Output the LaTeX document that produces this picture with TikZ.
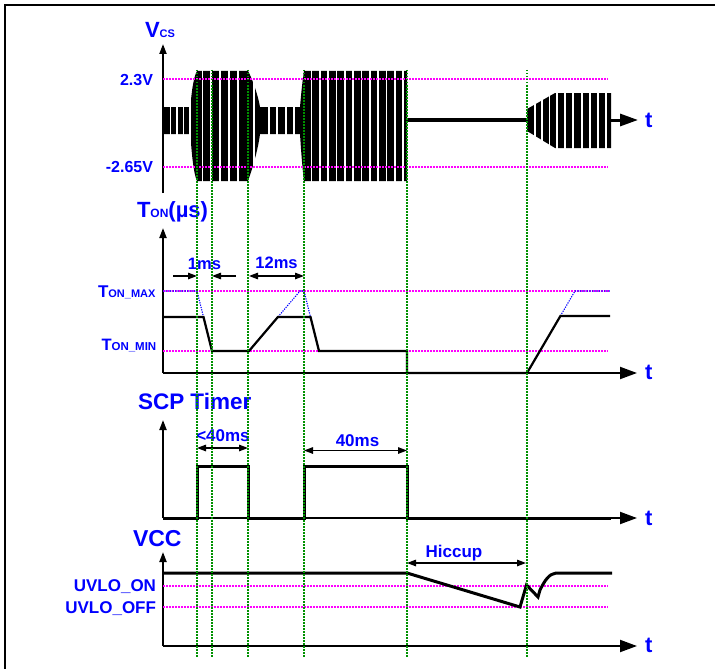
\documentclass[tikz,border=0pt]{standalone}
\usepackage{fontspec}
\newfontfamily\lab{Liberation Sans}
\usetikzlibrary{arrows.meta}
\definecolor{blu}{RGB}{0,0,255}
\definecolor{mag}{RGB}{255,0,255}
\definecolor{grn}{RGB}{0,145,0}
\begin{document}
\begin{tikzpicture}[x=1pt,y=-1pt,
  txt/.style={text=blu, inner sep=0pt, outer sep=0pt, font=\lab\bfseries\fontsize{#1}{#1}\selectfont},
  gl/.style={grn, line width=1.4pt, dash pattern=on 1.5pt off 1.5pt},
  ml/.style={mag, line width=1.4pt, dash pattern=on 1.5pt off 1.5pt},
  bl/.style={blu, line width=1.1pt, dash pattern=on 1.2pt off 1.2pt},
  yax/.style={line width=2pt, -{Triangle[length=10pt,width=7pt]}},
  tax/.style={line width=2pt, -{Triangle[length=17pt,width=12pt]}},
  dimone/.style={line width=1.3pt, -{Triangle[length=9pt,width=6.5pt]}},
  dimtwo/.style={line width=1.3pt, {Triangle[length=9pt,width=6.5pt]}-{Triangle[length=9pt,width=6.5pt]}},
  sig/.style={line width=3pt, line join=miter},
  gap/.style={white, line width=1.7pt}]
\useasboundingbox (0,0) rectangle (715,669);
% frame
\draw[line width=2pt] (4.5,669) -- (4.5,5.5) -- (715,5.5);

% ---------------- Vcs panel ----------------
\fill[black] (164,107) -- (190.5,107) .. controls (191.5,90) and (194,76) .. (197,71)
  -- (248,71) .. controls (252,78) and (258,95) .. (260,107) -- (300,107)
  .. controls (301,95) and (302.5,80) .. (304,71) -- (407,71) -- (407,181) -- (304,181)
  .. controls (302.5,170) and (301,150) .. (300,134) -- (260,134)
  .. controls (258,150) and (252,170) .. (248,181) -- (197,181)
  .. controls (194,175) and (191.5,155) .. (190.5,134) -- (164,134) -- cycle;
\fill[black] (527,109) -- (555,93) -- (611,93) -- (611,148) -- (555,148) -- (527,131) -- cycle;
\foreach \g in {170.5,177,183.5,190,202.5,211.3,220.1,228.9,237.7,254,269,277.3,285.7,294,
  311.5,319.8,328.2,336.5,344.8,353.2,361.5,369.8,378.2,386.5,394.8,403.2,
  535,542.3,549.5,556.7,565,573.3,581.7,590,598.3,606}
  \draw[gap] (\g,65) -- (\g,186);
\draw[line width=3.5pt] (406,120) -- (528,120);
\draw[line width=3pt, -{Triangle[length=18pt,width=12pt]}] (611,120) -- (638,120);
\draw[yax] (163,193) -- (163,44);
\draw[ml] (163,79) -- (608,79);
\draw[ml] (163,167) -- (608,167);
\node[txt=22, anchor=base west] (vcs) at (145,38) {V\fontsize{11}{11}\selectfont CS};
\node[txt=16, anchor=base east] (v23) at (153,85) {2.3V};
\node[txt=16, anchor=base east] (v265) at (153,172) {-2.65V};
\node[txt=22, anchor=base west] (t1) at (645,127) {t};

% ---------------- Ton panel ----------------
\draw[yax] (163,373) -- (163,228);
\draw[tax] (163,373) -- (637,373);
\draw[ml] (163,291) -- (610,291);
\draw[ml] (163,351) -- (608,351);
\draw[bl] (163,291) -- (197,291) -- (212,351) -- (249,351) -- (300,291) -- (304,291) -- (319,351)
  -- (407,351) -- (407,373) -- (527,373) -- (575,291) -- (610,291);
\draw[line width=2.2pt, line join=miter] (163,317) -- (203.5,317) -- (212,351) -- (249,351) -- (277.9,317)
  -- (310.5,317) -- (319,351) -- (407,351) -- (407,373) -- (527,373) -- (560.4,316) -- (610,316);
\node[txt=22, anchor=base west] (ton) at (137,217) {T\fontsize{12}{12}\selectfont ON\fontsize{22}{22}\selectfont(µs)};
\node[txt=17, anchor=base west] (tmax) at (98,297) {T\fontsize{11}{11}\selectfont ON\_MAX};
\node[txt=16.5, anchor=base west] (tmin) at (101.5,350) {T\fontsize{11.5}{11.5}\selectfont ON\_MIN};
\node[txt=22, anchor=base west] (t2) at (645,379) {t};
\coordinate (a1s) at (173,276); \coordinate (a1e) at (197,276);
\coordinate (a2s) at (236,276); \coordinate (a2e) at (212,276);
\coordinate (a3s) at (249,276); \coordinate (a3e) at (304,276);
\draw[dimone] (a1s) -- (a1e);
\draw[dimone] (a2s) -- (a2e);
\draw[dimtwo] (a3s) -- (a3e);
\node[txt=16.5, anchor=base] (ms1) at (204.5,269) {1ms};
\node[txt=16.5, anchor=base] (ms12) at (276.5,268) {12ms};

% ---------------- SCP panel ----------------
\draw[yax] (163,518) -- (163,420);
\draw[tax] (163,518) -- (637,518);
\draw[sig] (163,518) -- (197,518) -- (197,466) -- (248,466) -- (248,518) -- (304,518) -- (304,466)
  -- (407,466) -- (407,518) -- (611,518);
\node[txt=22.5, anchor=base west] (scp) at (138,409) {SCP Timer};
\coordinate (b1s) at (197,448); \coordinate (b1e) at (248,448);
\coordinate (b2s) at (304,450.5); \coordinate (b2e) at (407,450.5);
\draw[dimtwo] (b1s) -- (b1e);
\draw[dimtwo] (b2s) -- (b2e);
\node[txt=17, anchor=base] (ms40a) at (223,441.5) {<40ms};
\node[txt=17, anchor=base] (ms40b) at (357.5,446.5) {40ms};
\node[txt=22, anchor=base west] (t3) at (645,525) {t};

% ---------------- VCC panel ----------------
\draw[yax] (163,646) -- (163,552);
\draw[tax] (163,646) -- (637,646);
\draw[ml] (163,586) -- (608,586);
\draw[ml] (163,607) -- (608,607);
\draw[sig] (163,573) -- (407,573) -- (520,607) -- (526.5,585) -- (538,597) -- (540,590)
  .. controls (545,580) and (549,574) .. (556,573) -- (612,573);
\node[txt=23, anchor=base west] (vccl) at (133,546) {VCC};
\node[txt=17, anchor=base east] (uon) at (156,591.5) {UVLO\_ON};
\node[txt=17, anchor=base east] (uoff) at (156,613) {UVLO\_OFF};
\coordinate (c1s) at (407,563); \coordinate (c1e) at (526,563);
\draw[dimtwo] (c1s) -- (c1e);
\node[txt=17, anchor=base] (hic) at (454,557) {Hiccup};
\node[txt=22, anchor=base west] (t4) at (645,652) {t};

% ---------------- green time markers ----------------
\foreach \x in {197,212,248,304,407,527}
  \draw[gl] (\x,70) -- (\x,657);
\end{tikzpicture}
\end{document}
